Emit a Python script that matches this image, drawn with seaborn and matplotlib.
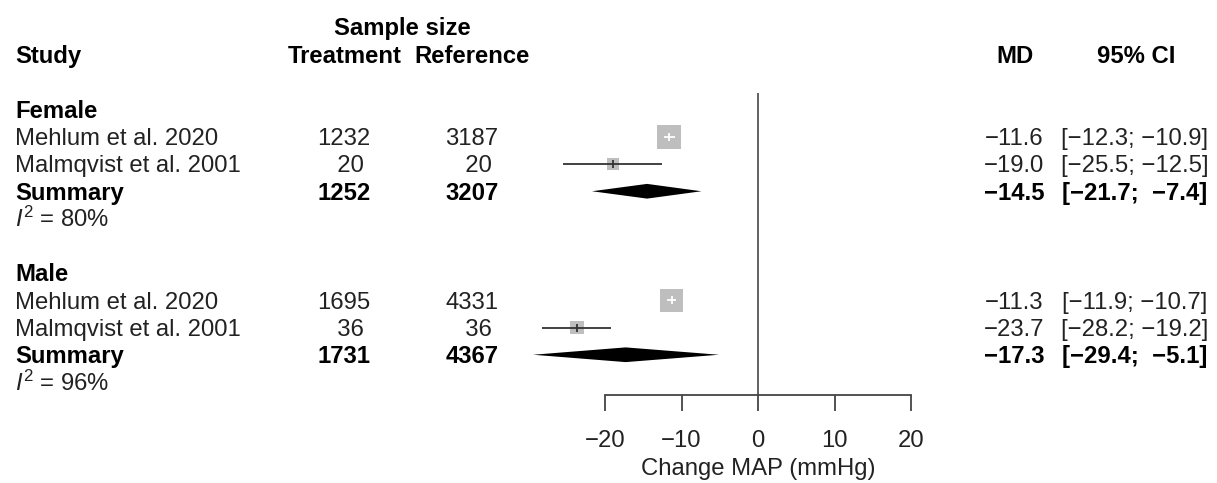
import numpy as np
import pandas as pd
import matplotlib
matplotlib.use("Agg")
import matplotlib.pyplot as plt
import matplotlib.transforms as mtransforms
import seaborn as sns

# data
groups = ["Female", "Male"]
studies = ["Mehlum et al. 2020", "Malmqvist et al. 2001"]
n_treat = [[1232, 20], [1695, 36]]
n_ref = [[3187, 20], [4331, 36]]
md = [[-11.6, -19.0], [-11.3, -23.7]]
ci_low = [[-12.3, -25.5], [-11.9, -28.2]]
ci_high = [[-10.9, -12.5], [-10.7, -19.2]]
weights = [[80, 20], [74, 26]]
sum_md = [-14.5, -17.3]
sum_low = [-21.7, -29.4]
sum_high = [-7.4, -5.1]
i2 = [80, 96]
xticks = [-20, -10, 0, 10, 20]

sns.set_theme(style="white")
plt.rcParams["font.family"] = ["Liberation Sans", "DejaVu Sans"]
plt.rcParams["mathtext.fontset"] = "custom"
plt.rcParams["mathtext.rm"] = "Liberation Sans"
plt.rcParams["mathtext.it"] = "Liberation Sans:italic"

W, H = 1217, 483
FS = 17.2
TXT = "#222222"

fig = plt.figure(figsize=(W / 100, H / 100), dpi=100)
ax = fig.add_axes([0, 0, 1, 1])

# pixel layout: x=0 at 758px, 7.65 px per unit; row r at 55 + 27.25*r px
px_unit, x0 = 7.65, 758
row_h, y0 = 27.25, 55
ax.set_xlim((0 - x0) / px_unit, (W - x0) / px_unit)
ax.set_ylim((H - y0) / row_h, (0 - y0) / row_h)

tr = mtransforms.blended_transform_factory(fig.transFigure, ax.transData)


def fmt(v):
    return f"{v:.1f}".replace("-", "\u2212")


def put(xpx, r, s, ha="left", bold=False):
    ax.text(xpx / W, r + 0.31, s, transform=tr, ha=ha, va="baseline",
            fontsize=FS, fontweight="bold" if bold else "normal",
            color="black" if bold else TXT)


# headers
put(402, -1.05, "Sample size", ha="center", bold=True)
put(15, 0, "Study", bold=True)
put(345, 0, "Treatment", ha="center", bold=True)
put(472, 0, "Reference", ha="center", bold=True)
put(1015, 0, "MD", ha="center", bold=True)
put(1136, 0, "95% CI", ha="center", bold=True)

# build table of studies
rows = []
for g in range(len(groups)):
    base = 2 + g * 6
    for i, s in enumerate(studies):
        rows.append(dict(group=groups[g], study=s, row=base + 1 + i,
                         nt=n_treat[g][i], nr=n_ref[g][i], md=md[g][i],
                         lo=ci_low[g][i], hi=ci_high[g][i], w=weights[g][i]))
df = pd.DataFrame(rows)

all_hi = [fmt(v) for v in list(df["hi"]) + sum_high]
hi_w = max(len(s) for s in all_hi)
nt_w = max(len(str(v)) for v in list(df["nt"]))
nr_w = max(len(str(v)) for v in list(df["nr"]))


def ci_text(lo, hi):
    return f"[{fmt(lo)}; {fmt(hi).rjust(hi_w)}]"


# square sizes from weights (side in px), in points^2 for scatter
max_side = 24
df["side"] = max_side * np.sqrt(df["w"] / max(max(w) for w in weights))
df["s"] = (df["side"] * 0.72) ** 2

for g in range(len(groups)):
    base = 2 + g * 6
    put(15, base, groups[g], bold=True)
    sub = df[df["group"] == groups[g]]
    for _, rw in sub.iterrows():
        put(15, rw["row"], rw["study"])
        put(344, rw["row"], str(rw["nt"]).rjust(nt_w), ha="center")
        put(472, rw["row"], str(rw["nr"]).rjust(nr_w), ha="center")
        put(1014, rw["row"], fmt(rw["md"]), ha="center")
        put(1135, rw["row"], ci_text(rw["lo"], rw["hi"]), ha="center")
    r_sum = base + 3
    put(15, r_sum, "Summary", bold=True)
    put(344, r_sum, str(sub["nt"].sum()), ha="center", bold=True)
    put(472, r_sum, str(sub["nr"].sum()), ha="center", bold=True)
    put(1014, r_sum, fmt(sum_md[g]), ha="center", bold=True)
    put(1135, r_sum, ci_text(sum_low[g], sum_high[g]), ha="center", bold=True)
    put(15, base + 4, f"$I^2$ = {i2[g]}%")

    # summary diamond
    hh = 0.27
    ax.fill([sum_low[g], sum_md[g], sum_high[g], sum_md[g]],
            [r_sum, r_sum - hh, r_sum, r_sum + hh],
            color="black", lw=0, zorder=3)

# squares
sns.scatterplot(data=df, x="md", y="row", marker="s", s=df["s"].values,
                color="#bebebe", edgecolor="none", linewidth=0, ax=ax,
                zorder=2, legend=False)

# CI lines: white where they sit inside the square
for _, rw in df.iterrows():
    inside = (rw["hi"] - rw["lo"]) * px_unit < rw["side"]
    col = "white" if inside else "#333333"
    ax.hlines(rw["row"], rw["lo"], rw["hi"], color=col, lw=1.3, zorder=3)
    ax.plot(rw["md"], rw["row"], marker="|", ms=6, mew=1.3,
            color=col, zorder=4)

# axis & null line
axis_r = 12.48
ax.vlines(0, 1.39, axis_r, color="#555555", lw=1.3, zorder=1)

for sp in ["top", "right", "left"]:
    ax.spines[sp].set_visible(False)
ax.spines["bottom"].set_position(("data", axis_r))
ax.spines["bottom"].set_bounds(xticks[0], xticks[-1])
ax.spines["bottom"].set_color("#444444")
ax.spines["bottom"].set_linewidth(1.3)
ax.set_xticks(xticks)
ax.set_xticklabels([f"{t}".replace("-", "\u2212") for t in xticks])
ax.tick_params(axis="x", bottom=True, direction="out", length=11.5,
               width=1.3, color="#444444", labelsize=FS, labelcolor=TXT,
               pad=14)
ax.set_yticks([])
ax.grid(False)
ax.set_xlabel("")
ax.set_ylabel("")
ax.text(0, 15.12 + 0.31, "Change MAP (mmHg)", ha="center", va="baseline",
        fontsize=FS, color=TXT)

fig.savefig("out.png", dpi=100)
